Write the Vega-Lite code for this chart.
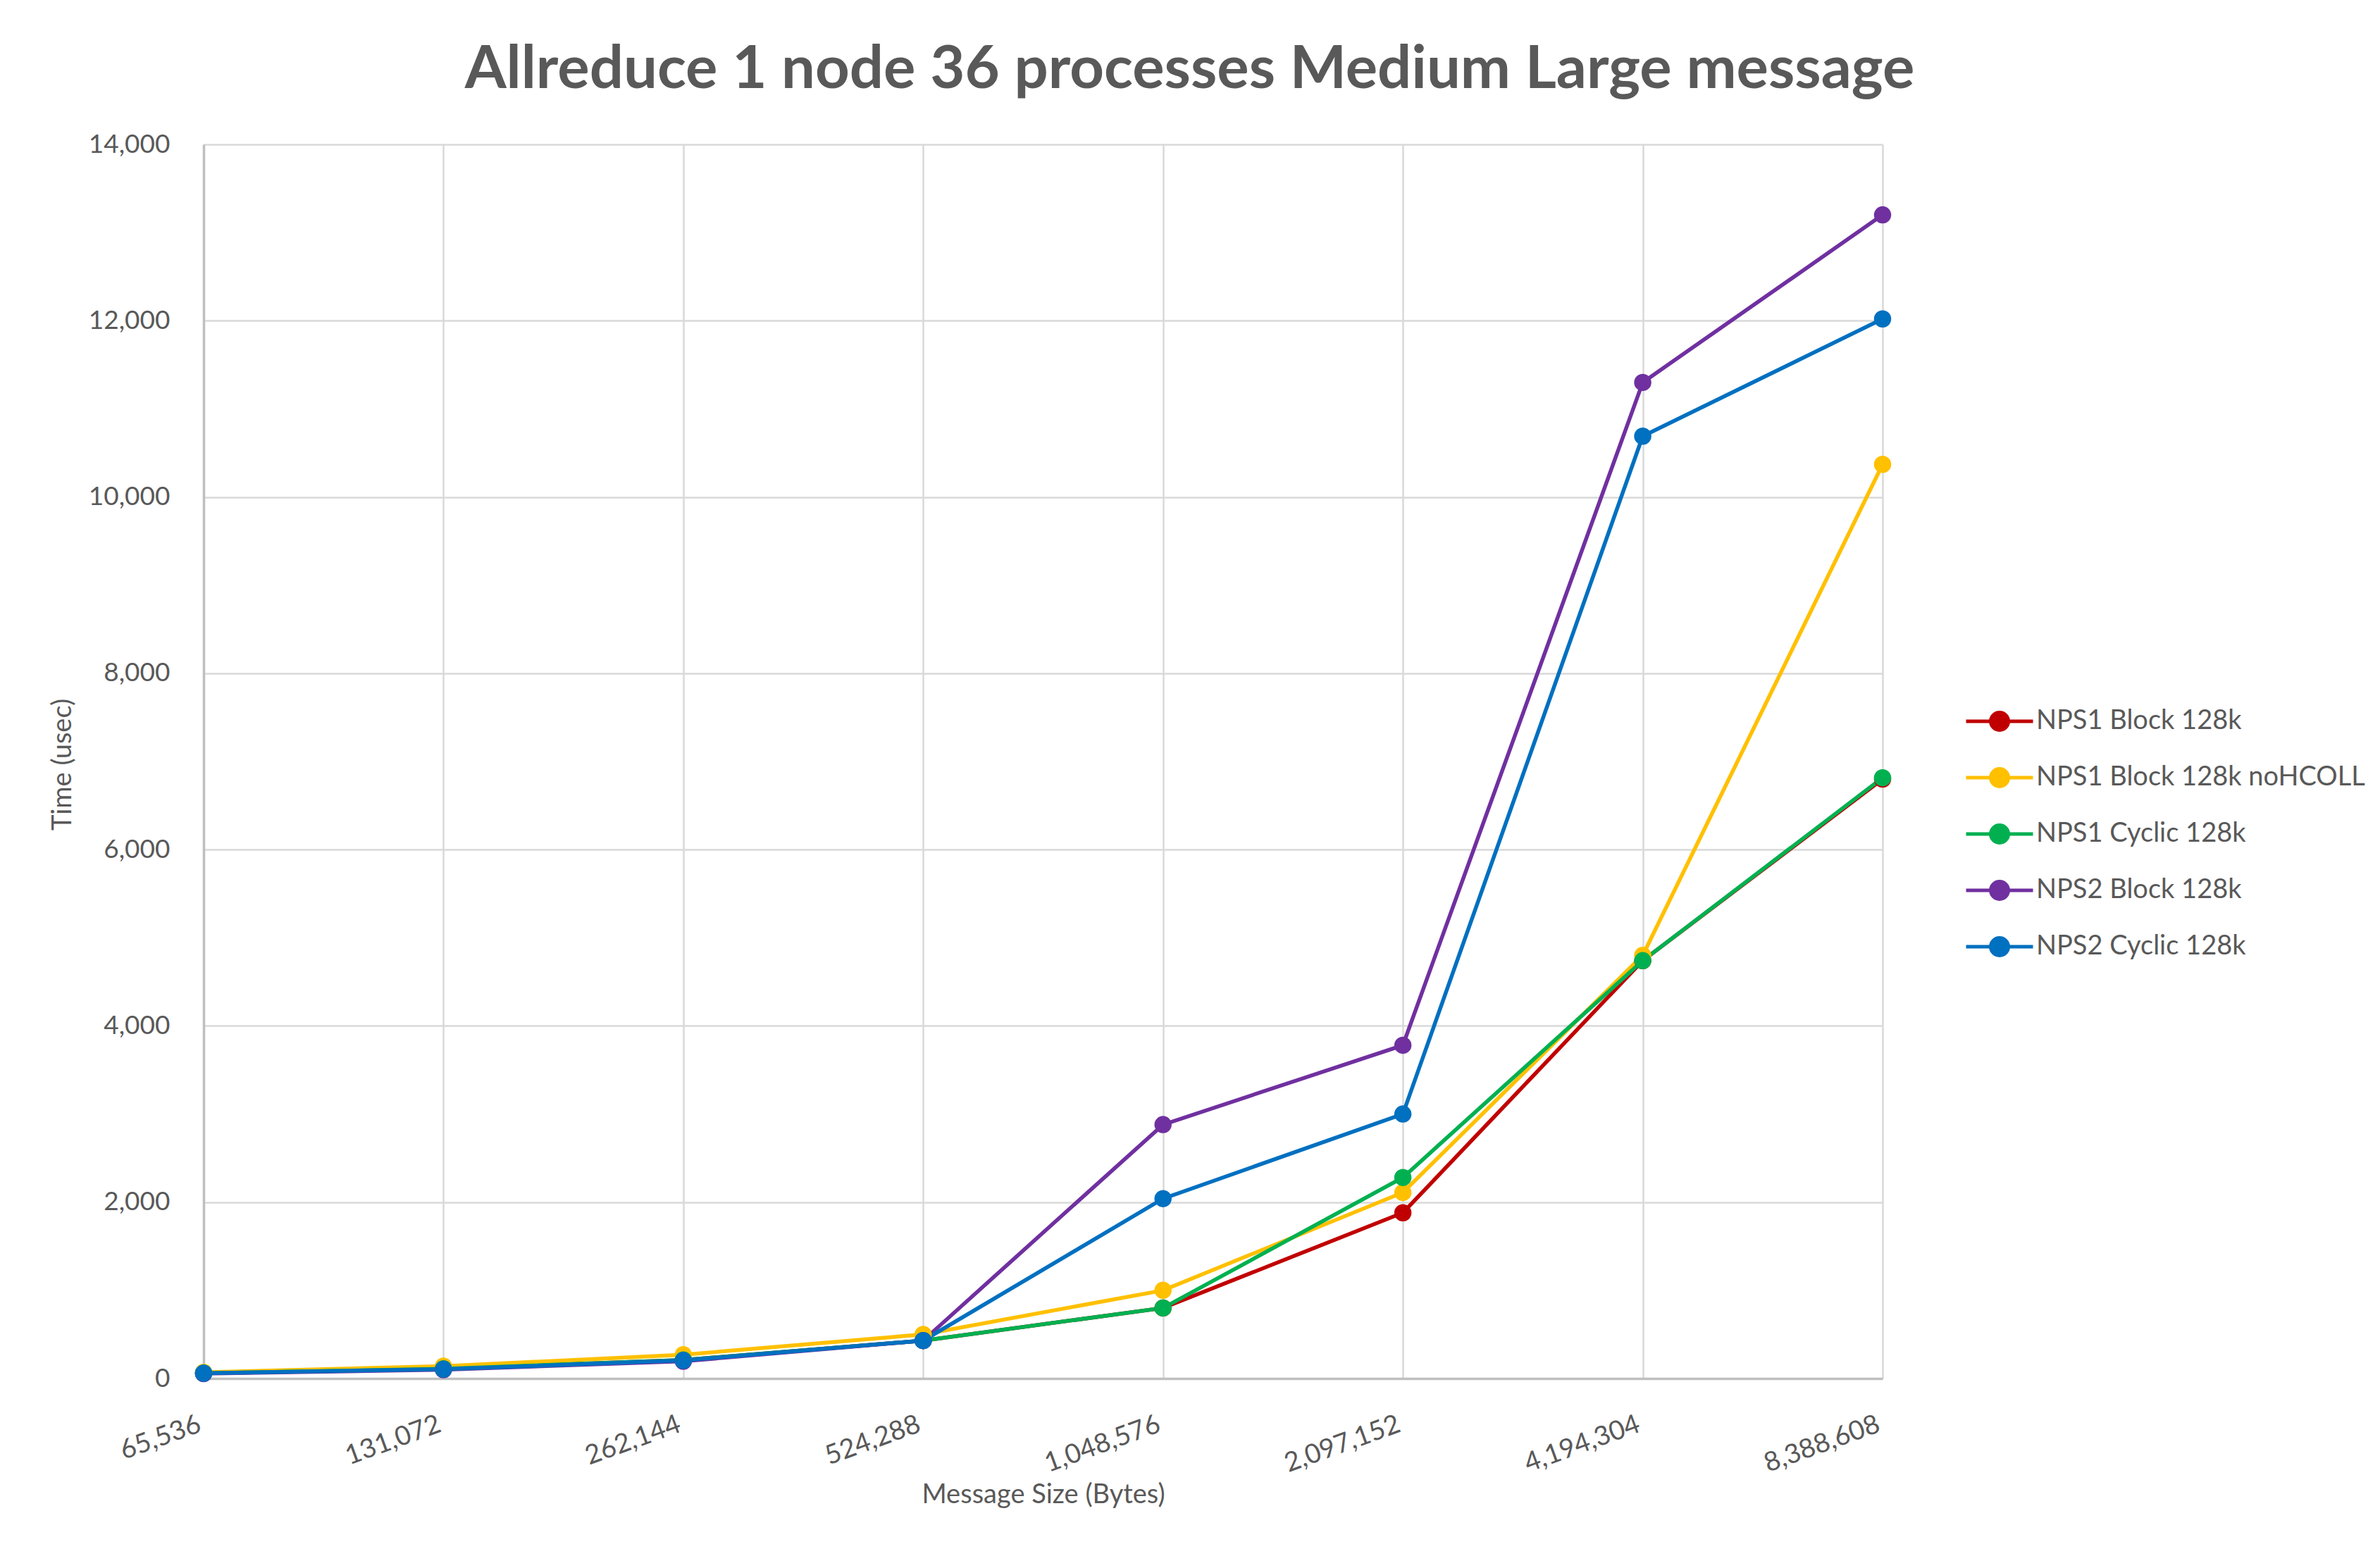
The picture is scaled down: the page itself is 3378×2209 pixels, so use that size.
{
  "$schema": "https://vega.github.io/schema/vega-lite/v6.json",
  "width": 2383,
  "height": 1752,
  "autosize": {"type": "none"},
  "padding": {"left": 289, "top": 205, "right": 706, "bottom": 252},
  "background": "white",
  "title": {
    "text": "Allreduce 1 node 36 processes Medium Large message",
    "font": "Lato",
    "fontSize": 85,
    "fontWeight": "bold",
    "color": "#595959",
    "anchor": "middle",
    "dx": 208,
    "dy": 107,
    "baseline": "alphabetic",
    "offset": 83
  },
  "data": {
    "values": [
      {"size": 65536, "series": "NPS1 Block 128k", "time": 60},
      {"size": 131072, "series": "NPS1 Block 128k", "time": 110},
      {"size": 262144, "series": "NPS1 Block 128k", "time": 210},
      {"size": 524288, "series": "NPS1 Block 128k", "time": 430},
      {"size": 1048576, "series": "NPS1 Block 128k", "time": 800},
      {"size": 2097152, "series": "NPS1 Block 128k", "time": 1880},
      {"size": 4194304, "series": "NPS1 Block 128k", "time": 4740},
      {"size": 8388608, "series": "NPS1 Block 128k", "time": 6800},
      {"size": 65536, "series": "NPS1 Block 128k noHCOLL", "time": 70},
      {"size": 131072, "series": "NPS1 Block 128k noHCOLL", "time": 140},
      {"size": 262144, "series": "NPS1 Block 128k noHCOLL", "time": 270},
      {"size": 524288, "series": "NPS1 Block 128k noHCOLL", "time": 500},
      {"size": 1048576, "series": "NPS1 Block 128k noHCOLL", "time": 1000},
      {"size": 2097152, "series": "NPS1 Block 128k noHCOLL", "time": 2110},
      {"size": 4194304, "series": "NPS1 Block 128k noHCOLL", "time": 4800},
      {"size": 8388608, "series": "NPS1 Block 128k noHCOLL", "time": 10370},
      {"size": 65536, "series": "NPS1 Cyclic 128k", "time": 60},
      {"size": 131072, "series": "NPS1 Cyclic 128k", "time": 110},
      {"size": 262144, "series": "NPS1 Cyclic 128k", "time": 210},
      {"size": 524288, "series": "NPS1 Cyclic 128k", "time": 430},
      {"size": 1048576, "series": "NPS1 Cyclic 128k", "time": 800},
      {"size": 2097152, "series": "NPS1 Cyclic 128k", "time": 2280},
      {"size": 4194304, "series": "NPS1 Cyclic 128k", "time": 4740},
      {"size": 8388608, "series": "NPS1 Cyclic 128k", "time": 6815},
      {"size": 65536, "series": "NPS2 Block 128k", "time": 55},
      {"size": 131072, "series": "NPS2 Block 128k", "time": 100},
      {"size": 262144, "series": "NPS2 Block 128k", "time": 195},
      {"size": 524288, "series": "NPS2 Block 128k", "time": 430},
      {"size": 1048576, "series": "NPS2 Block 128k", "time": 2880},
      {"size": 2097152, "series": "NPS2 Block 128k", "time": 3780},
      {"size": 4194304, "series": "NPS2 Block 128k", "time": 11300},
      {"size": 8388608, "series": "NPS2 Block 128k", "time": 13200},
      {"size": 65536, "series": "NPS2 Cyclic 128k", "time": 60},
      {"size": 131072, "series": "NPS2 Cyclic 128k", "time": 105},
      {"size": 262144, "series": "NPS2 Cyclic 128k", "time": 205},
      {"size": 524288, "series": "NPS2 Cyclic 128k", "time": 430},
      {"size": 1048576, "series": "NPS2 Cyclic 128k", "time": 2040},
      {"size": 2097152, "series": "NPS2 Cyclic 128k", "time": 3000},
      {"size": 4194304, "series": "NPS2 Cyclic 128k", "time": 10690},
      {"size": 8388608, "series": "NPS2 Cyclic 128k", "time": 12020}
    ]
  },
  "mark": {
    "type": "line",
    "strokeWidth": 5.5,
    "point": {"filled": true, "size": 600}
  },
  "encoding": {
    "x": {
      "field": "size",
      "type": "ordinal",
      "scale": {"type": "point", "padding": 0},
      "axis": {
        "title": "Message Size (Bytes)",
        "labelExpr": "format(datum.value, ',')",
        "labelAngle": -20,
        "labelAlign": "right",
        "labelBaseline": "top",
        "labelPadding": 46,
        "labelOffset": -12,
        "labelFontSize": 38,
        "ticks": false,
        "grid": true,
        "gridColor": "#D9D9D9",
        "gridWidth": 2.5,
        "domainColor": "#BFBFBF",
        "domainWidth": 3.5,
        "titleY": 146,
        "titleBaseline": "top"
      }
    },
    "y": {
      "field": "time",
      "type": "quantitative",
      "scale": {"domain": [0, 14000], "nice": false},
      "axis": {
        "title": "Time (usec)",
        "values": [0, 2000, 4000, 6000, 8000, 10000, 12000, 14000],
        "format": ",.0f",
        "labelPadding": 48,
        "labelFontSize": 37,
        "ticks": false,
        "grid": true,
        "gridColor": "#D9D9D9",
        "gridWidth": 2.5,
        "domainColor": "#BFBFBF",
        "domainWidth": 3.5,
        "titleX": -181,
        "titleY": 880,
        "titleAngle": -90,
        "titleBaseline": "bottom"
      }
    },
    "color": {
      "field": "series",
      "type": "nominal",
      "scale": {
        "domain": ["NPS1 Block 128k", "NPS1 Block 128k noHCOLL", "NPS1 Cyclic 128k", "NPS2 Block 128k", "NPS2 Cyclic 128k"],
        "range": ["#C00000", "#FFC000", "#00B050", "#7030A0", "#0070C0"]
      },
      "legend": {
        "title": null,
        "orient": "none",
        "legendX": 2530,
        "legendY": 800,
        "padding": 0,
        "symbolType": "M-3.8,0L3.8,0M-1,0A1,1 0 1,0 1,0A1,1 0 1,0 -1,0Z",
        "symbolSize": 625,
        "symbolStrokeWidth": 5,
        "labelFontSize": 38,
        "labelOffset": 33,
        "rowPadding": 34,
        "labelLimit": 800,
        "encode": {
          "symbols": {
            "update": {
              "fill": {"scale": "color", "field": "value"},
              "stroke": {"scale": "color", "field": "value"},
              "fillOpacity": {"value": 1},
              "opacity": {"value": 1}
            }
          }
        }
      }
    }
  },
  "config": {
    "view": {"stroke": null},
    "font": "Lato",
    "axis": {
      "labelColor": "#595959",
      "titleColor": "#595959",
      "labelFont": "Lato",
      "titleFont": "Lato",
      "titleFontSize": 38,
      "titleFontWeight": "normal"
    },
    "legend": {
      "labelColor": "#595959",
      "labelFont": "Lato"
    }
  }
}
